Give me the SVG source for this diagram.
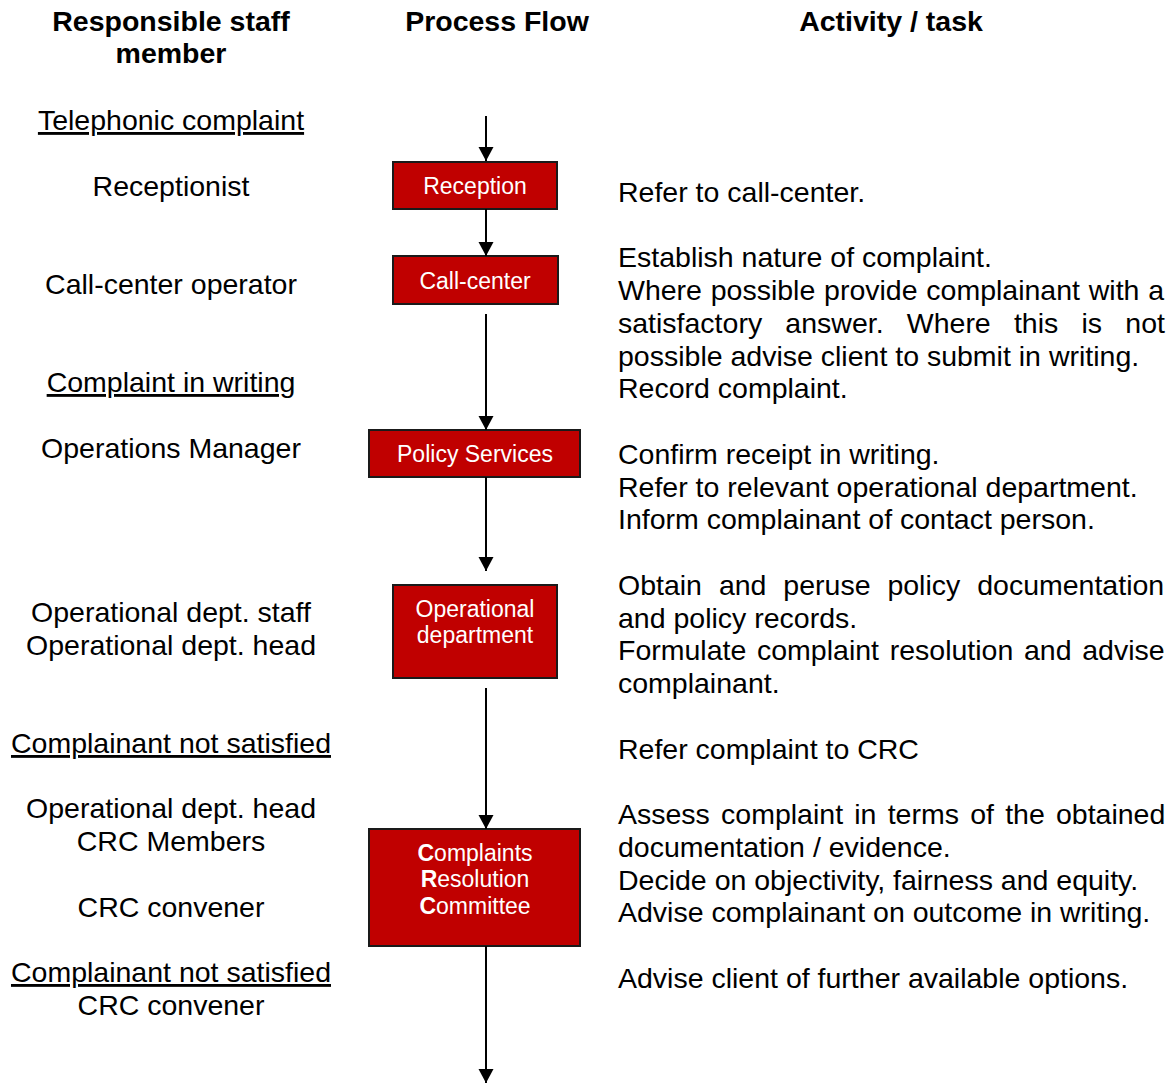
<svg xmlns="http://www.w3.org/2000/svg" width="1172" height="1084" viewBox="0 0 1172 1084">
<style>
  text { font-family: "Liberation Sans", Arial, sans-serif; fill: #000; }
  .hdr { font-size: 28.5px; font-weight: bold; text-anchor: middle; }
  .lft { font-size: 28.5px; text-anchor: middle; }
  .ul { text-decoration: underline; }
  .rt { font-size: 28.5px; }
  .box { fill: #C00000; stroke: #1a1a1a; stroke-width: 2; }
  .bt { font-size: 23px; fill: #fff; text-anchor: middle; }
  .bt tspan.b { font-weight: bold; }
  .conn line { stroke: #000; stroke-width: 2; }
</style>
<defs>
  <marker id="ah2" markerUnits="userSpaceOnUse" markerWidth="15" markerHeight="16" viewBox="0 0 14 16" refX="14" refY="8" orient="auto">
    <path d="M0,0.5 L14,8 L0,15.5 Z" fill="#000"/>
  </marker>
</defs>
<rect width="1172" height="1084" fill="#fff"/>

<g id="headers">
  <text class="hdr" x="171" y="31">Responsible staff</text>
  <text class="hdr" x="171" y="63">member</text>
  <text class="hdr" x="497" y="31">Process Flow</text>
  <text class="hdr" x="891" y="31">Activity / task</text>
</g>

<g id="staff">
  <text class="lft ul" x="171" y="130">Telephonic complaint</text>
  <text class="lft" x="171" y="196">Receptionist</text>
  <text class="lft" x="171" y="294">Call-center operator</text>
  <text class="lft ul" x="171" y="392">Complaint in writing</text>
  <text class="lft" x="171" y="458">Operations Manager</text>
  <text class="lft" x="171" y="622">Operational dept. staff</text>
  <text class="lft" x="171" y="655">Operational dept. head</text>
  <text class="lft ul" x="171" y="753">Complainant not satisfied</text>
  <text class="lft" x="171" y="818">Operational dept. head</text>
  <text class="lft" x="171" y="851">CRC Members</text>
  <text class="lft" x="171" y="917">CRC convener</text>
  <text class="lft ul" x="171" y="982">Complainant not satisfied</text>
  <text class="lft" x="171" y="1015">CRC convener</text>
</g>

<g id="activities">
  <text class="rt" x="618" y="202">Refer to call-center.</text>
  <text class="rt" x="618" y="267">Establish nature of complaint.</text>
  <text class="rt" x="618" y="300" word-spacing="0.86">Where possible provide complainant with a</text>
  <text class="rt" x="618" y="333" word-spacing="15.3">satisfactory answer. Where this is not</text>
  <text class="rt" x="618" y="366">possible advise client to submit in writing.</text>
  <text class="rt" x="618" y="398">Record complaint.</text>
  <text class="rt" x="618" y="464">Confirm receipt in writing.</text>
  <text class="rt" x="618" y="497">Refer to relevant operational department.</text>
  <text class="rt" x="618" y="529">Inform complainant of contact person.</text>
  <text class="rt" x="618" y="595" word-spacing="9.0">Obtain and peruse policy documentation</text>
  <text class="rt" x="618" y="628">and policy records.</text>
  <text class="rt" x="618" y="660" word-spacing="2.8">Formulate complaint resolution and advise</text>
  <text class="rt" x="618" y="693">complainant.</text>
  <text class="rt" x="618" y="759">Refer complaint to CRC</text>
  <text class="rt" x="618" y="824" word-spacing="3.3">Assess complaint in terms of the obtained</text>
  <text class="rt" x="618" y="857">documentation / evidence.</text>
  <text class="rt" x="618" y="890">Decide on objectivity, fairness and equity.</text>
  <text class="rt" x="618" y="922">Advise complainant on outcome in writing.</text>
  <text class="rt" x="618" y="988">Advise client of further available options.</text>
</g>

<g id="node-reception">
  <rect class="box" x="393" y="162" width="164" height="47"/>
  <text class="bt" x="475" y="194">Reception</text>
</g>
<g id="node-callcenter">
  <rect class="box" x="393" y="256" width="165" height="48"/>
  <text class="bt" x="475" y="289">Call-center</text>
</g>
<g id="node-policy">
  <rect class="box" x="369" y="430" width="211" height="47"/>
  <text class="bt" x="475" y="462">Policy Services</text>
</g>
<g id="node-operational">
  <rect class="box" x="393" y="585" width="164" height="93"/>
  <text class="bt" x="475" y="617">Operational</text>
  <text class="bt" x="475" y="643">department</text>
</g>
<g id="node-crc">
  <rect class="box" x="369" y="829" width="211" height="117"/>
  <text class="bt" x="475" y="861"><tspan class="b">C</tspan>omplaints</text>
  <text class="bt" x="475" y="887"><tspan class="b">R</tspan>esolution</text>
  <text class="bt" x="475" y="914"><tspan class="b">C</tspan>ommittee</text>
</g>

<g id="connectors" class="conn">
  <line x1="486" y1="116" x2="486" y2="161" marker-end="url(#ah2)"/>
  <line x1="486" y1="209" x2="486" y2="256" marker-end="url(#ah2)"/>
  <line x1="486" y1="314" x2="486" y2="430" marker-end="url(#ah2)"/>
  <line x1="486" y1="477" x2="486" y2="571" marker-end="url(#ah2)"/>
  <line x1="486" y1="688" x2="486" y2="829" marker-end="url(#ah2)"/>
  <line x1="486" y1="946" x2="486" y2="1083" marker-end="url(#ah2)"/>
</g>
</svg>
